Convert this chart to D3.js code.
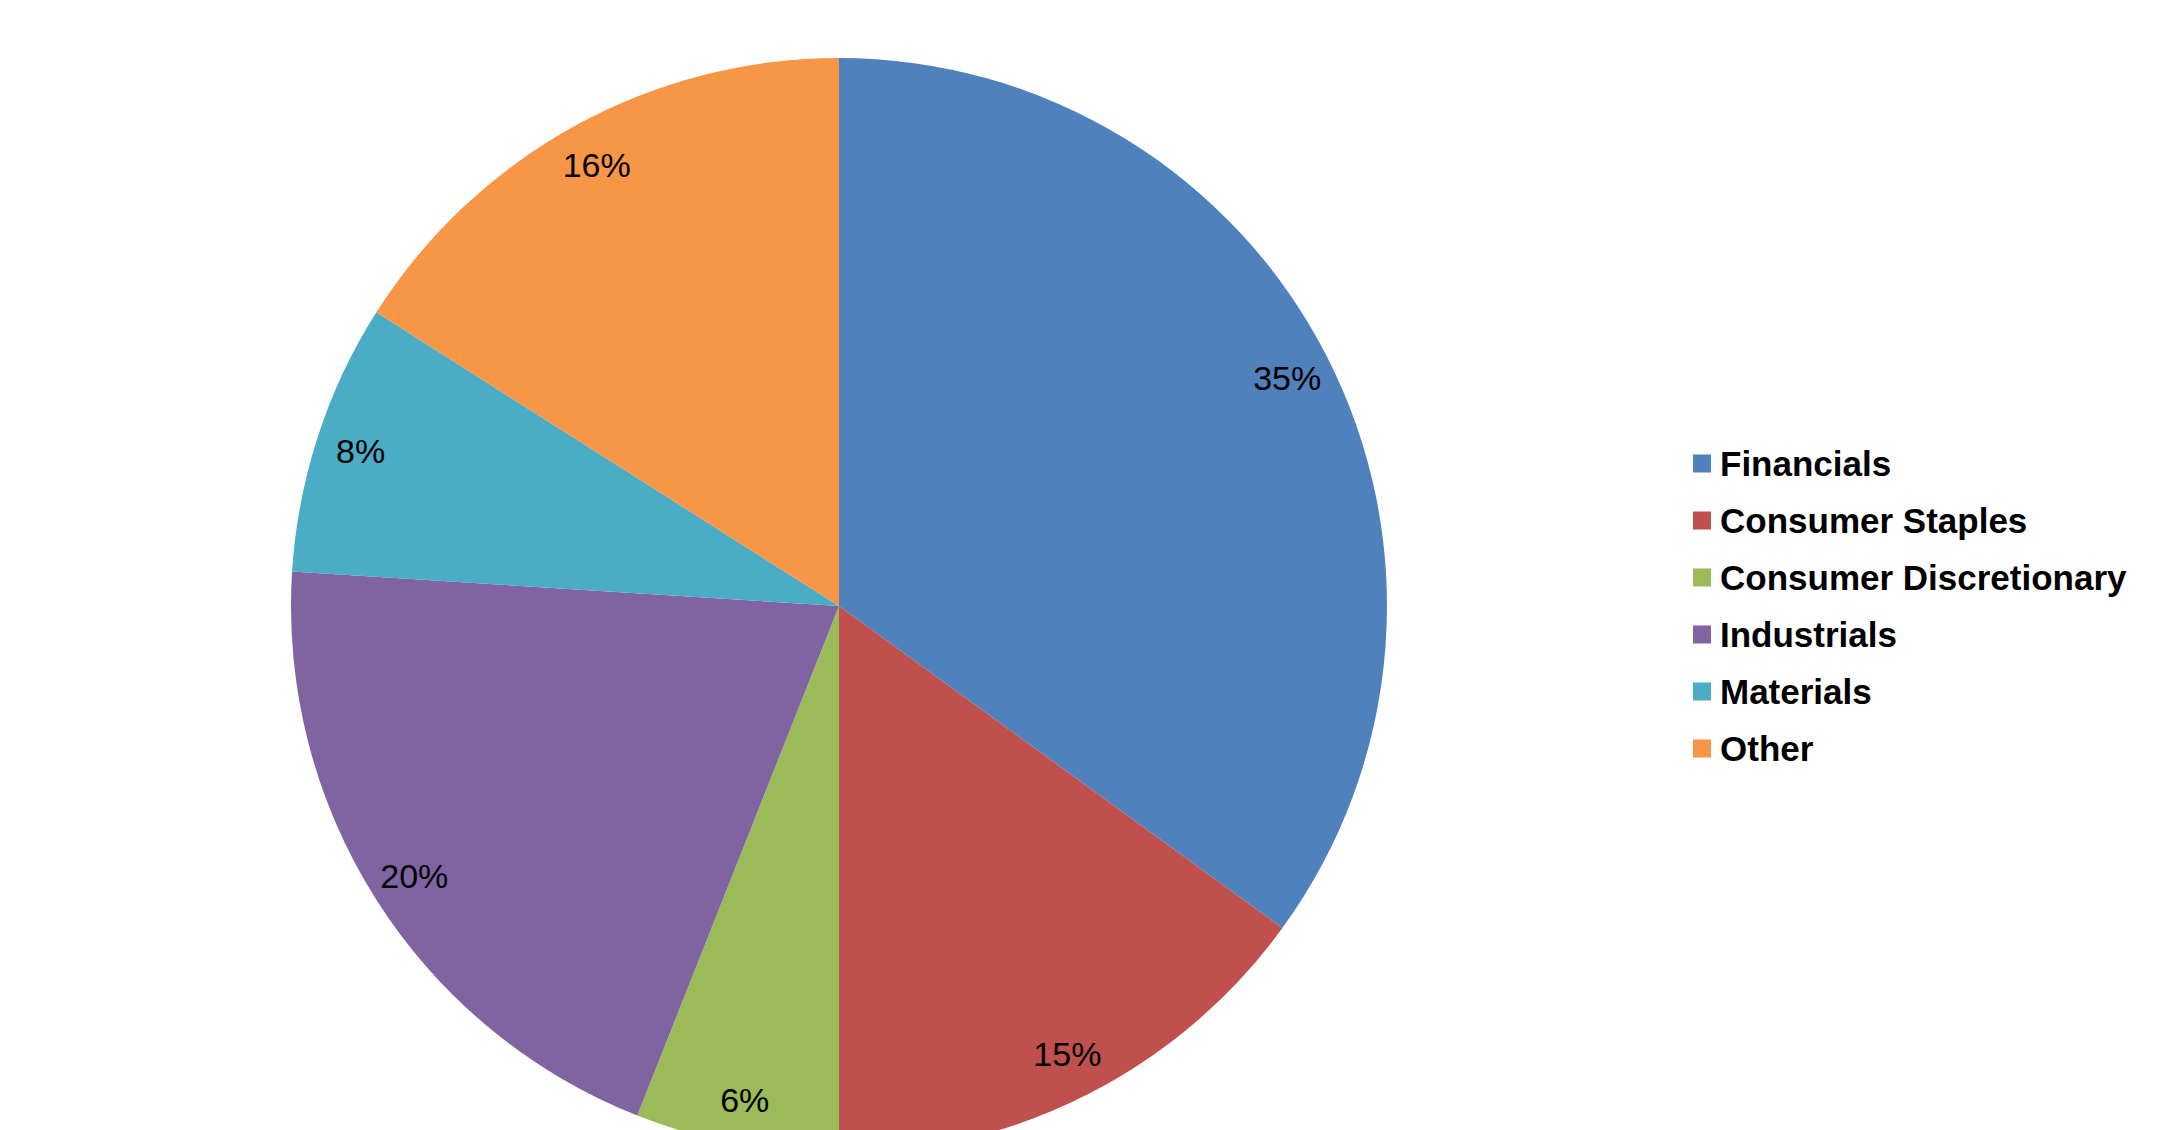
<!DOCTYPE html>
<html>
<head>
<meta charset="utf-8">
<script src="https://cdn.jsdelivr.net/npm/d3@7"></script>
<style>
  html, body { margin: 0; padding: 0; background: #ffffff; overflow: hidden; }
  svg { display: block; }
</style>
</head>
<body>
<svg id="chart" width="2160" height="1130"></svg>
<script>
const categories = ["Financials", "Consumer Staples", "Consumer Discretionary", "Industrials", "Materials", "Other"];
const values = [35, 15, 6, 20, 8, 16];
const colors = ["#4F81BD", "#C0504D", "#9BBB59", "#8064A2", "#4BACC6", "#F79646"];

const svg = d3.select("#chart");
const cx = 839, cy = 606, radius = 548, labelRadius = 503;

const data = categories.map((c, i) => ({ name: c, value: values[i], color: colors[i] }));
const pie = d3.pie().sort(null).value(d => d.value).startAngle(0).endAngle(2 * Math.PI);
const arcs = pie(data);
const arc = d3.arc().innerRadius(0).outerRadius(radius);
const labelArc = d3.arc().innerRadius(labelRadius).outerRadius(labelRadius);

const g = svg.append("g").attr("transform", `translate(${cx},${cy})`);
g.selectAll("path.slice").data(arcs).enter().append("path")
  .attr("class", "slice")
  .attr("d", arc)
  .attr("fill", d => d.data.color);

g.selectAll("text.lbl").data(arcs).enter().append("text")
  .attr("class", "lbl")
  .attr("transform", d => `translate(${labelArc.centroid(d)})`)
  .attr("text-anchor", "middle")
  .attr("dominant-baseline", "central")
  .attr("font-family", "'Liberation Sans', Arial, sans-serif")
  .attr("font-size", 34)
  .attr("fill", "#000")
  .text(d => d.data.value + "%");

const legendY = d3.scaleBand().domain(categories).range([435, 777]);
const legend = svg.append("g").attr("transform", "translate(1693,0)");
const items = legend.selectAll("g.item").data(data).enter().append("g")
  .attr("class", "item")
  .attr("transform", d => `translate(0,${legendY(d.name) + legendY.bandwidth() / 2})`);
items.append("rect").attr("x", 0).attr("y", -9).attr("width", 18).attr("height", 18)
  .attr("fill", d => d.color);
items.append("text")
  .attr("x", 27).attr("y", 12)
  .attr("font-family", "'Liberation Sans', Arial, sans-serif")
  .attr("font-weight", "bold")
  .attr("font-size", 35)
  .attr("fill", "#000")
  .text(d => d.name);
</script>
</body>
</html>
